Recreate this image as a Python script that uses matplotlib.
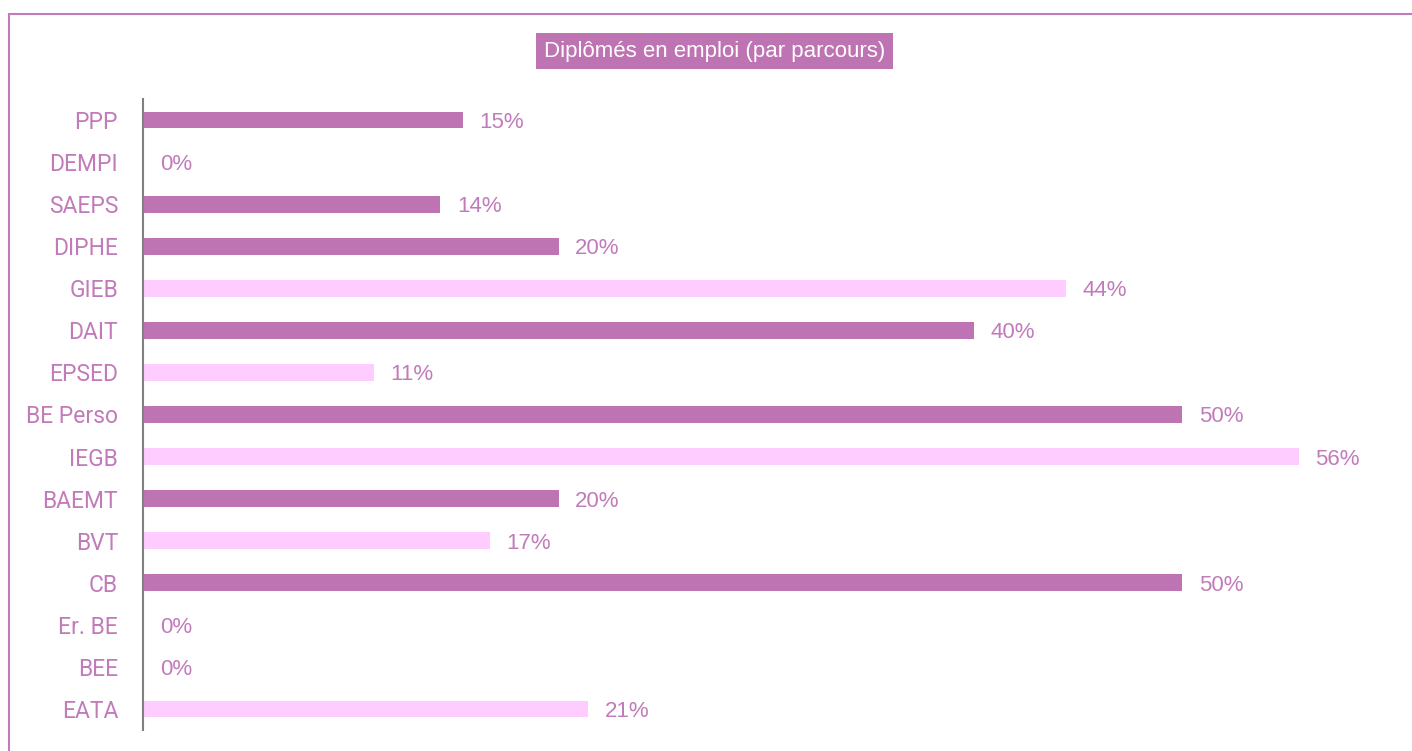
import matplotlib
matplotlib.use("Agg")
import matplotlib.pyplot as plt
import matplotlib.patches as mpatches

# --- Data ---------------------------------------------------------------------
parcours = ['PPP', 'DEMPI', 'SAEPS', 'DIPHE', 'GIEB', 'DAIT', 'EPSED', 'BE Perso',
            'IEGB', 'BAEMT', 'BVT', 'CB', 'Er. BE', 'BEE', 'EATA']
taux_emploi = [15.4, 0, 14.3, 20.0, 44.4, 40.0, 11.1, 50.0,
               55.6, 20.0, 16.7, 50.0, 0, 0, 21.4]
groupe = ['a', 'a', 'a', 'a', 'b', 'a', 'b', 'a',
          'b', 'a', 'b', 'a', 'b', 'b', 'b']

# --- Style --------------------------------------------------------------------
DARK = '#BE74B3'
LIGHT = '#FFCCFF'
TEXT = '#C27BBA'
COLORS = {'a': DARK, 'b': LIGHT}

fig = plt.figure(figsize=(14.12, 7.51), dpi=100)
ax = fig.add_axes([143 / 1412, 1 - 730 / 751, 1247 / 1412, 631 / 751])

ypos = list(range(len(parcours)))
ax.barh(ypos, taux_emploi, height=0.4,
        color=[COLORS[g] for g in groupe])

for y, v in zip(ypos, taux_emploi):
    ax.annotate(f"{v:.0f}%", (v, y), xytext=(12, 0), textcoords='offset points',
                ha='left', va='center_baseline', fontsize=16, color=TEXT,
                family='Liberation Sans')

ax.set_xlim(0, 60)
ax.set_ylim(len(parcours) - 0.5, -0.5)
ax.set_yticks(ypos)
ax.set_yticklabels(parcours, fontsize=16.5, color=TEXT, family='Roboto')
ax.tick_params(axis='y', length=0, pad=18)
ax.set_xticks([])

for side in ['top', 'right', 'bottom']:
    ax.spines[side].set_visible(False)
ax.spines['left'].set_color('#808080')
ax.spines['left'].set_linewidth(1.5)

# Title box
fig.text(714.5 / 1412, 1 - 51 / 751, 'Diplômés en emploi (par parcours)',
         ha='center', va='center', fontsize=16, color='white',
         family='Liberation Sans',
         bbox=dict(facecolor=DARK, edgecolor='none', boxstyle='square,pad=0.35'))

# Frame around the chart (cut at right and bottom)
frame = mpatches.Rectangle((9 / 1412, -0.1), 1.5, 1.1 - 14 / 751,
                           transform=fig.transFigure, fill=False,
                           edgecolor=TEXT, linewidth=1.5)
fig.patches.append(frame)

fig.savefig('out.png', dpi=100)
